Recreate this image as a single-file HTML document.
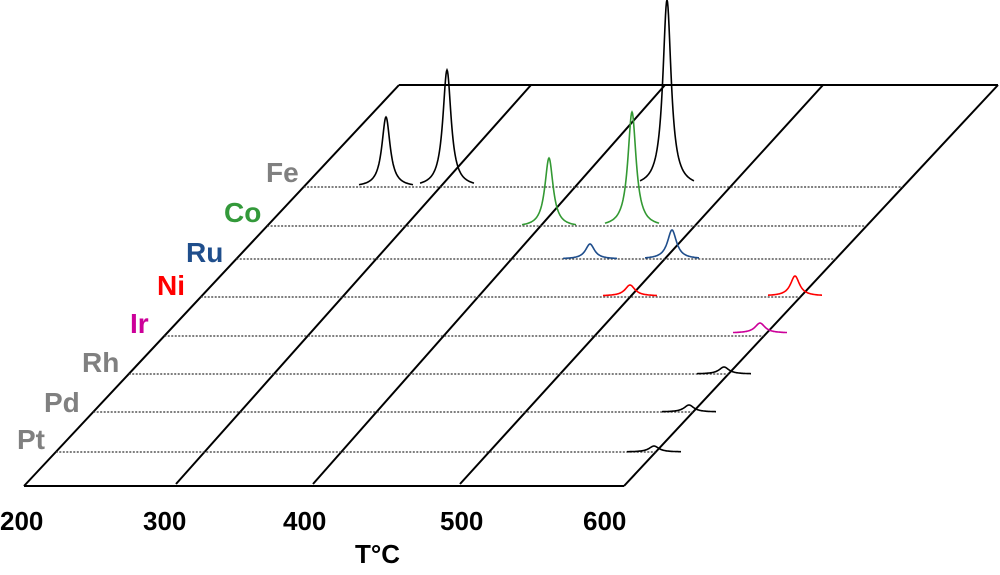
<!DOCTYPE html>
<html><head><meta charset="utf-8"><style>
body{margin:0;background:#fff;}
svg{display:block;}
text{font-family:"Liberation Sans",Arial,sans-serif;font-weight:bold;}
</style></head><body>
<svg id="s" width="1000" height="575" viewBox="0 0 1000 575" xmlns="http://www.w3.org/2000/svg">
<g stroke="#000" stroke-width="2" fill="none">
<line x1="24" y1="486" x2="624" y2="486"/>
<line x1="399" y1="85" x2="998" y2="85"/>
<line x1="24" y1="486" x2="399" y2="85"/>
<line x1="176" y1="484" x2="531" y2="85"/>
<line x1="313" y1="484" x2="665" y2="85"/>
<line x1="460" y1="484" x2="823" y2="85"/>
<line x1="624" y1="486" x2="998" y2="85"/>
</g>
<g id="rows" stroke="#333" stroke-width="1.2" stroke-dasharray="2,1.5" fill="none"></g>
<g id="peaks" stroke-width="1.6" fill="none"></g>
<g font-size="28">
<text x="266" y="182" fill="#808080">Fe</text>
<text x="224" y="222" fill="#33993a">Co</text>
<text x="186" y="262" fill="#1f4e8c">Ru</text>
<text x="157" y="295" fill="#ff0000">Ni</text>
<text x="130" y="333" fill="#cc0099">Ir</text>
<text x="82" y="372" fill="#808080">Rh</text>
<text x="44" y="412" fill="#808080">Pd</text>
<text x="17" y="449" fill="#808080">Pt</text>
</g>
<g font-size="26" fill="#000">
<text x="0" y="530">200</text>
<text x="143" y="530">300</text>
<text x="283" y="530">400</text>
<text x="440" y="530">500</text>
<text x="583" y="530">600</text>
<text x="355" y="563">T°C</text>
</g>
</svg>
<script>
var NS="http://www.w3.org/2000/svg";
var rows=[187,226,259,297,336,374,412,452];
var rg=document.getElementById("rows");
rows.forEach(function(y){
 var xl=24+(486-y)*0.935, xr=998-(y-85)*0.933;
 var l=document.createElementNS(NS,"line");
 l.setAttribute("x1",xl);l.setAttribute("x2",xr);l.setAttribute("y1",y);l.setAttribute("y2",y);
 rg.appendChild(l);
});
var pk=[
 [386,187,117,27,"#000",5],[447,187,70,27,"#000",5],[667,187,0,27,"#000",5],
 [549,227,158,27,"#339933",5],[632,227,112,27,"#339933",5],
 [590,259,244,27,"#1f4e8c",5.5],[672,259,230,27,"#1f4e8c",5.5],
 [630,296,285,27,"#ff0000",6],[795,296,276,27,"#ff0000",5.5],
 [760,333,323,27,"#cc0099",6],
 [724,374,367,27,"#000",6],[689,412,405,27,"#000",6],[654,452,446,27,"#000",6]
];
var pg=document.getElementById("peaks");
pk.forEach(function(p){
 var c=p[0],b=p[1],h=b-p[2],s=p[3],col=p[4],w=p[5],pts=[];
 for(var x=c-s;x<=c+s;x+=0.5){var d=(x-c)/w;pts.push(x.toFixed(1)+","+(b-h/(1+d*d)).toFixed(1));}
 var pl=document.createElementNS(NS,"polyline");
 pl.setAttribute("points",pts.join(" "));pl.setAttribute("stroke",col);
 pg.appendChild(pl);
});
</script>
</body></html>
